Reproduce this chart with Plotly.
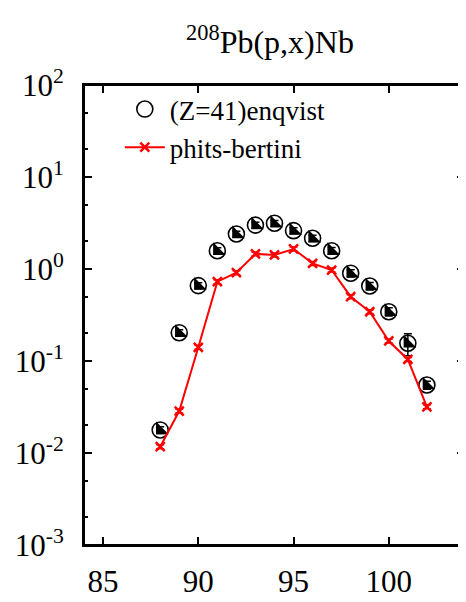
import plotly.graph_objects as go

# Mass number A of Nb isotopes
mass = [88, 89, 90, 91, 92, 93, 94, 95, 96, 97, 98, 99, 100, 101, 102]

# (Z=41) enqvist measured cross sections [mb]
enqvist = [0.0178, 0.203, 0.66, 1.58, 2.40, 3.0, 3.14, 2.61, 2.16, 1.58, 0.90, 0.653, 0.343, 0.156, 0.0548]
enqvist_err = [0.0015, 0.016, 0.05, 0.12, 0.18, 0.22, 0.23, 0.2, 0.17, 0.13, 0.08, 0.06, 0.035, 0.042, 0.0055]

# phits-bertini calculation [mb]
phits = [0.0117, 0.0286, 0.141, 0.728, 0.912, 1.46, 1.42, 1.65, 1.15, 0.975, 0.50, 0.343, 0.165, 0.104, 0.0318]
phits_err = [0.0006, 0.0014, 0.007, 0.036, 0.045, 0.07, 0.07, 0.08, 0.06, 0.05, 0.025, 0.017, 0.008, 0.005, 0.0016]

x_ticks = [85, 90, 95, 100]
y_ticks = [1e-3, 1e-2, 1e-1, 1e0, 1e1, 1e2]
y_ticktext = ["10<sup>-3</sup>", "10<sup>-2</sup>", "10<sup>-1</sup>", "10<sup>0</sup>",
              "10<sup>1</sup>", "10<sup>2</sup>"]
y_minor = [k * 10.0 ** e for e in range(-3, 2) for k in (2, 5)]

FONT = "Liberation Serif"

fig = go.Figure()

fig.add_trace(go.Scatter(
    x=mass, y=enqvist, mode="markers", name="(Z=41)enqvist",
    marker=dict(symbol="circle-open", size=16, color="black", line=dict(width=1.6, color="black")),
    error_y=dict(type="data", array=enqvist_err, color="black", thickness=1.5, width=4),
))
fig.add_trace(go.Scatter(
    x=mass, y=enqvist, mode="markers", showlegend=False, hoverinfo="skip",
    marker=dict(symbol="triangle-sw", size=14, color="black", line=dict(width=0)),
))
fig.add_trace(go.Scatter(
    x=mass, y=phits, mode="lines+markers", name="phits-bertini",
    line=dict(color="red", width=2),
    marker=dict(symbol="x-thin", size=9, color="red", line=dict(width=2.5, color="red")),
    error_y=dict(type="data", array=phits_err, color="red", thickness=1.5, width=4),
))

axis_common = dict(
    showline=True, linecolor="black", linewidth=2, mirror="allticks",
    ticks="inside", tickcolor="black", tickwidth=1.5, ticklen=8,
    showgrid=False, zeroline=False, automargin=False,
    tickfont=dict(family=FONT, size=31, color="black"),
)

fig.update_xaxes(range=[84, 104], tickmode="array", tickvals=x_ticks, ticklabelstandoff=8, **axis_common)
fig.update_yaxes(type="log", range=[-3, 2], tickmode="array", tickvals=y_ticks, ticktext=y_ticktext,
                 ticklabelstandoff=12,
                 minor=dict(tickmode="array", tickvals=y_minor, ticks="inside", ticklen=4,
                            tickcolor="black", tickwidth=1.5),
                 **axis_common)

fig.update_layout(
    width=458, height=594,
    margin=dict(l=76, r=1, t=77, b=57),
    paper_bgcolor="white", plot_bgcolor="white",
    title=dict(text="<sup>208</sup>Pb(p,x)Nb", x=0.572, xanchor="center", y=0.943, yanchor="middle",
               font=dict(family=FONT, size=32, color="black")),
    legend=dict(x=0.094, y=1.0, xanchor="left", yanchor="top", bgcolor="rgba(0,0,0,0)",
                font=dict(family=FONT, size=27, color="black"), itemwidth=40,
                tracegroupgap=0),
    showlegend=True,
    shapes=[dict(type="rect", xref="paper", yref="paper", x0=0, x1=1, y0=0, y1=1,
                 line=dict(color="black", width=2), layer="above")],
)

fig.write_html("out.html")
